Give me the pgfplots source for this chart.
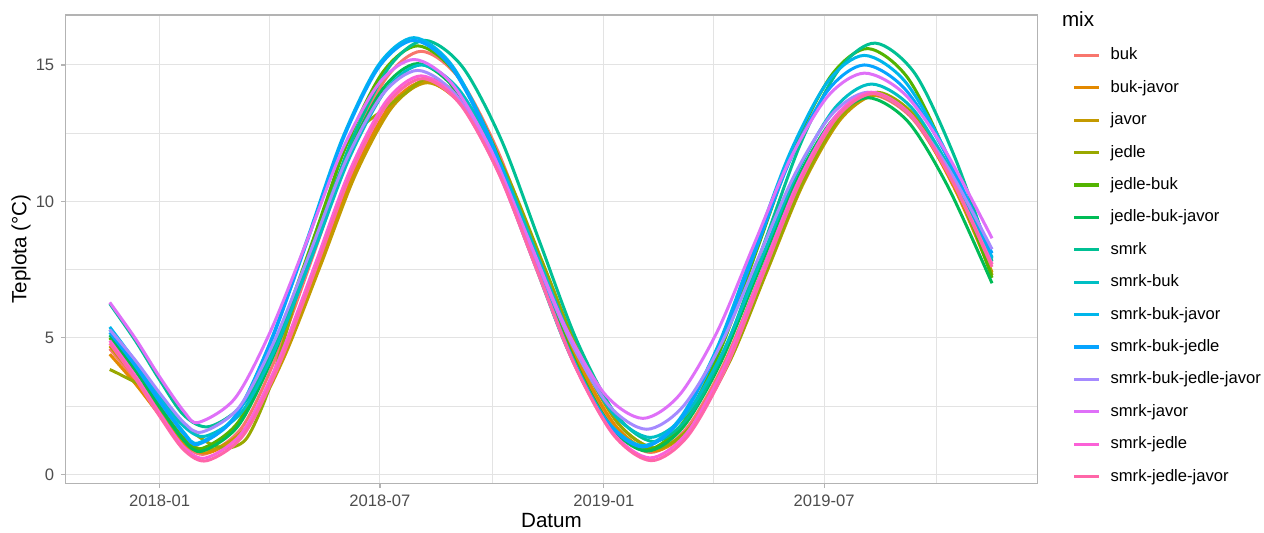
\documentclass[border=0pt]{standalone}
\usepackage{fontspec}
\setmainfont{Liberation Sans}
\usepackage{pgfplots}
\pgfplotsset{compat=1.18}

\definecolor{c1}{HTML}{F8766D}
\definecolor{c2}{HTML}{E38900}
\definecolor{c3}{HTML}{C49A00}
\definecolor{c4}{HTML}{99A800}
\definecolor{c5}{HTML}{53B400}
\definecolor{c6}{HTML}{00BC56}
\definecolor{c7}{HTML}{00C094}
\definecolor{c8}{HTML}{00BFC4}
\definecolor{c9}{HTML}{00B6EB}
\definecolor{c10}{HTML}{06A4FF}
\definecolor{c11}{HTML}{A58AFF}
\definecolor{c12}{HTML}{DF70F8}
\definecolor{c13}{HTML}{FB61D7}
\definecolor{c14}{HTML}{FF66A8}
\definecolor{gridc}{HTML}{E3E3E3}
\definecolor{framec}{HTML}{B3B3B3}
\definecolor{tickc}{HTML}{4D4D4D}

\begin{document}
\begin{tikzpicture}
\begin{axis}[
    scale only axis,
    width=485.8pt, height=234.15pt,
    xmin=-77.2, xmax=721.2, ymin=-0.33, ymax=16.83,
    xtick={0,181,365,546},
    xticklabels={2018-01,2018-07,2019-01,2019-07},
    minor xtick={90,273,455,638},
    ytick={0,5,10,15},
    minor ytick={2.5,7.5,12.5},
    grid=both,
    major grid style={draw=gridc, line width=0.55pt},
    minor grid style={draw=gridc, line width=0.3pt},
    axis line style={draw=framec, line width=0.7pt},
    tick align=outside, tick pos=left,
    major tick length=2.2pt, minor tick length=0pt,
    tick style={draw=framec, line width=0.6pt},
    /pgf/number format/assume math mode=true,
    ticklabel style={font=\fontsize{8.3}{9}\selectfont, text=tickc},
    xlabel={Datum}, ylabel={Teplota (°C)},
    label style={font=\fontsize{10.3}{12}\selectfont},
    xlabel style={at={(axis description cs:0.5,-0.0784)}, anchor=center},
    ylabel style={at={(axis description cs:-0.046,0.5)}, anchor=center},
    clip=false,
    every axis plot/.append style={line width=1.5pt, smooth},
    legend image code/.code={\draw[#1, line width=1.6pt] (0pt,0pt) -- (12.5pt,0pt);},
    legend cell align=left,
    legend style={at={(axis description cs:1,1)}, anchor=north west,
        xshift=17.35pt, yshift=-16.25pt, draw=none, fill=none, inner sep=0pt,
        font=\fontsize{8.3}{9}\selectfont, row sep=8.7pt, column sep=5pt,
        nodes={inner sep=0pt, text height=6pt, text depth=1.5pt}},
]
% buk
\addplot[c1] coordinates {(-41,4.6)(-20,3.45)(0,2.21)(20,1.10)(38,0.75)(68,1.74)(97,4.44)(127,8.13)(156,11.81)(186,14.51)(215,15.5)(246,14.52)(278,11.83)(309,8.15)(340,4.48)(372,1.79)(403,0.8)(433,1.68)(464,4.08)(494,7.35)(524,10.63)(555,13.02)(585,13.9)(618,13.06)(651,10.76)(684,7.7)};
\addlegendentry{buk}
% buk-javor
\addplot[c2] coordinates {(-41,4.4)(-20,3.32)(0,2.17)(20,1.12)(41,0.8)(71,1.71)(100,4.2)(130,7.6)(159,11.0)(189,13.49)(218,14.4)(249,13.49)(281,11.01)(312,7.63)(343,4.24)(375,1.76)(406,0.85)(436,1.72)(467,4.11)(497,7.38)(527,10.64)(558,13.03)(588,13.9)(621,12.96)(654,10.40)(684,7.3)};
\addlegendentry{buk-javor}
% javor
\addplot[c3] coordinates {(-41,4.7)(-20,3.56)(0,2.34)(20,1.24)(43,0.9)(73,1.80)(102,4.26)(132,7.63)(161,10.99)(191,13.45)(220,14.35)(251,13.45)(283,11.0)(314,7.65)(345,4.3)(377,1.85)(408,0.95)(438,1.82)(469,4.19)(499,7.43)(529,10.66)(560,13.03)(590,13.9)(623,12.94)(656,10.34)(684,7.4)};
\addlegendentry{javor}
% jedle
\addplot[c4] coordinates {(-41,3.84)(-30,3.6)(-8,3.05)(15,2.0)(33,1.35)(45,1.05)(58,0.97)(72,1.35)(88,2.9)(104,5.2)(122,8.0)(140,10.3)(151,11.9)(165,12.7)(182,13.3)(200,13.9)(222,14.5)(253,13.59)(284,11.11)(315,7.73)(346,4.34)(377,1.86)(408,0.95)(438,1.82)(469,4.21)(499,7.48)(529,10.74)(560,13.13)(590,14.0)(623,13.01)(656,10.33)(684,7.3)};
\addlegendentry{jedle}
% jedle-buk
\addplot[c5] coordinates {(-41,5.0)(-20,3.79)(0,2.49)(20,1.31)(35,0.95)(65,1.94)(94,4.64)(124,8.33)(153,12.01)(183,14.71)(212,15.7)(243,14.71)(275,12.0)(306,8.3)(337,4.6)(369,1.89)(400,0.9)(430,1.89)(461,4.58)(491,8.25)(521,11.93)(552,14.62)(582,15.6)(615,14.51)(648,11.54)(684,7.2)};
\addlegendentry{jedle-buk}
% jedle-buk-javor
\addplot[c6] coordinates {(-41,5.1)(-20,3.83)(0,2.47)(20,1.23)(35,0.85)(65,1.80)(94,4.40)(124,7.95)(153,11.5)(183,14.1)(212,15.05)(243,14.1)(275,11.5)(306,7.95)(337,4.40)(369,1.80)(400,0.85)(430,1.72)(461,4.09)(491,7.33)(521,10.56)(552,12.93)(582,13.8)(615,12.92)(648,10.52)(684,7.0)};
\addlegendentry{jedle-buk-javor}
% smrk
\addplot[c7] coordinates {(-41,6.25)(-20,4.90)(0,3.46)(20,2.16)(41,1.75)(71,2.70)(100,5.29)(130,8.83)(159,12.36)(189,14.95)(218,15.9)(249,14.92)(281,12.23)(312,8.55)(343,4.88)(375,2.19)(406,1.2)(436,2.18)(467,4.85)(497,8.5)(527,12.15)(558,14.82)(588,15.8)(621,14.66)(654,11.55)(684,7.8)};
\addlegendentry{smrk}
% smrk-buk
\addplot[c8] coordinates {(-41,5.3)(-20,4.13)(0,2.88)(20,1.75)(38,1.4)(68,2.31)(97,4.8)(127,8.2)(156,11.6)(186,14.09)(215,15.0)(246,14.09)(278,11.59)(309,8.18)(340,4.76)(372,2.26)(403,1.35)(433,2.22)(464,4.59)(494,7.83)(524,11.06)(555,13.43)(585,14.3)(618,13.43)(651,11.06)(684,7.9)};
\addlegendentry{smrk-buk}
% smrk-buk-javor
\addplot[c9] coordinates {(-41,5.4)(-20,4.13)(0,2.77)(20,1.53)(32,1.15)(62,2.14)(91,4.86)(121,8.58)(150,12.29)(180,15.01)(209,16.0)(240,15.0)(272,12.26)(303,8.53)(334,4.79)(366,2.05)(397,1.05)(427,2.01)(458,4.63)(488,8.2)(518,11.78)(549,14.39)(579,15.35)(612,14.42)(645,11.92)(684,7.95)};
\addlegendentry{smrk-buk-javor}
% smrk-buk-jedle
\addplot[c10] coordinates {(-41,5.2)(-20,3.97)(0,2.66)(20,1.47)(32,1.1)(62,2.09)(91,4.8)(121,8.5)(150,12.2)(180,14.91)(209,15.9)(240,14.9)(272,12.18)(303,8.45)(334,4.73)(366,2.0)(397,1.0)(427,1.94)(458,4.5)(488,8.0)(518,11.5)(549,14.06)(579,15.0)(612,14.14)(645,11.81)(684,8.1)};
\addlegendentry{smrk-buk-jedle}
% smrk-buk-jedle-javor
\addplot[c11] coordinates {(-41,5.3)(-20,4.18)(0,2.98)(20,1.89)(35,1.55)(65,2.44)(94,4.86)(124,8.18)(153,11.49)(183,13.91)(212,14.8)(243,13.92)(275,11.51)(306,8.23)(337,4.94)(369,2.53)(400,1.65)(430,2.48)(461,4.74)(491,7.83)(521,10.91)(552,13.17)(582,14.0)(615,13.25)(648,11.22)(684,8.25)};
\addlegendentry{smrk-buk-jedle-javor}
% smrk-javor
\addplot[c12] coordinates {(-41,6.3)(-20,4.98)(0,3.57)(20,2.30)(32,1.9)(62,2.79)(91,5.23)(121,8.55)(150,11.88)(180,14.31)(209,15.2)(240,14.32)(272,11.91)(303,8.63)(334,5.34)(366,2.93)(397,2.05)(427,2.90)(458,5.21)(488,8.38)(518,11.54)(549,13.85)(579,14.7)(612,13.94)(645,11.9)(684,8.65)};
\addlegendentry{smrk-javor}
% smrk-jedle
\addplot[c13] coordinates {(-41,4.9)(-20,3.61)(0,2.23)(20,0.99)(38,0.6)(68,1.54)(97,4.1)(127,7.6)(156,11.1)(186,13.66)(215,14.6)(246,13.66)(278,11.1)(309,7.6)(340,4.1)(372,1.54)(403,0.6)(433,1.50)(464,3.95)(494,7.3)(524,10.65)(555,13.1)(585,14.0)(618,13.14)(651,10.81)(684,7.7)};
\addlegendentry{smrk-jedle}
% smrk-jedle-javor
\addplot[c14] coordinates {(-41,4.8)(-20,3.51)(0,2.13)(20,0.89)(39,0.5)(69,1.44)(98,4.0)(128,7.5)(157,11.0)(187,13.56)(216,14.5)(247,13.56)(279,11.0)(310,7.5)(341,4.0)(373,1.44)(404,0.5)(434,1.40)(465,3.86)(495,7.23)(525,10.59)(556,13.05)(586,13.95)(619,13.07)(652,10.69)(684,7.6)};
\addlegendentry{smrk-jedle-javor}
\node[anchor=base west, font=\fontsize{10.3}{12}\selectfont] at (axis description cs:1.0182,0.9744) {mix};
\end{axis}
\pgfresetboundingbox
\path (-32.85pt,-24.35pt) rectangle (599.15pt,241.65pt);
\end{tikzpicture}
\end{document}
